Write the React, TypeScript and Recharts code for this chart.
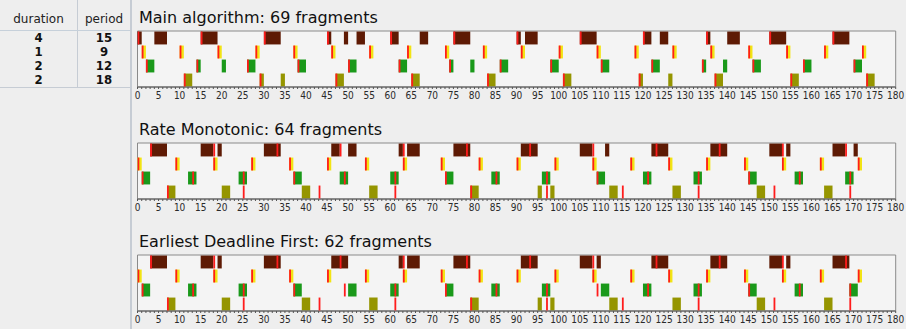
import { ComposedChart, XAxis, YAxis, ReferenceArea, Scatter } from "recharts";

type Seg = [number, number];

// task table (left panel)
const TASK_DURATIONS = [4, 1, 2, 2];
const TASK_PERIODS = [15, 9, 12, 18];

const ROW_COLORS = ["#5e1a04", "#f2e414", "#1a991a", "#959500"];
const MARK_COLOR = "#ff1c1c";

const X_TICKS = Array.from({ length: 181 }, (_, i) => i);

// ---- Main algorithm: executed fragments per task ----
const MAIN_T1: Seg[] = [[0, 1], [4, 7], [15, 19], [30, 34], [45, 46], [49, 50], [52, 54], [60, 62], [67, 69], [75, 79], [90, 91], [92, 95], [105, 109], [120, 122], [124, 126], [135, 136], [140, 143], [150, 154], [165, 169]];
const MAIN_T2: Seg[] = [[1, 2], [10, 11], [19, 20], [28, 29], [37, 38], [46, 47], [55, 56], [64, 65], [73, 74], [82, 83], [91, 92], [100, 101], [109, 110], [118, 119], [127, 128], [136, 137], [145, 146], [154, 155], [163, 164], [172, 173]];
const MAIN_T3: Seg[] = [[2, 4], [14, 15], [20, 21], [26, 28], [38, 40], [50, 52], [62, 64], [74, 75], [79, 80], [86, 88], [98, 100], [110, 112], [122, 124], [134, 135], [139, 140], [146, 148], [158, 160], [170, 172]];
const MAIN_T4: Seg[] = [[11, 13], [29, 30], [34, 35], [47, 49], [65, 67], [83, 85], [101, 103], [119, 120], [126, 127], [137, 139], [155, 157], [173, 175]];

// ---- Rate Monotonic ----
const RM_T1: Seg[] = [[3, 7], [15, 18], [19, 20], [30, 34], [46, 48], [50, 52], [62, 63], [64, 67], [75, 79], [91, 95], [105, 108], [111, 112], [122, 126], [136, 140], [150, 153], [154, 155], [165, 168], [170, 171]];
const RM_T2: Seg[] = [[0, 1], [9, 10], [18, 19], [27, 28], [36, 37], [45, 46], [54, 55], [63, 64], [72, 73], [81, 82], [90, 91], [99, 100], [108, 109], [117, 118], [126, 127], [135, 136], [144, 145], [153, 154], [162, 163], [171, 172]];
const RM_T3: Seg[] = [[1, 3], [12, 14], [24, 26], [37, 39], [48, 50], [60, 62], [73, 75], [84, 86], [96, 98], [109, 111], [120, 122], [132, 134], [145, 147], [156, 158], [168, 170]];
const RM_T4: Seg[] = [[7, 9], [20, 22], [39, 41], [55, 57], [79, 81], [95, 96], [98, 99], [112, 114], [127, 129], [147, 149], [163, 165]];

// ---- Earliest Deadline First ----
const EDF_T1: Seg[] = [[3, 7], [15, 18], [19, 20], [30, 34], [46, 50], [62, 63], [64, 67], [75, 79], [91, 95], [105, 108], [109, 110], [122, 126], [136, 140], [150, 153], [154, 155], [165, 169]];
const EDF_T2: Seg[] = [[0, 1], [9, 10], [18, 19], [27, 28], [36, 37], [45, 46], [54, 55], [63, 64], [72, 73], [81, 82], [90, 91], [99, 100], [108, 109], [117, 118], [126, 127], [135, 136], [144, 145], [153, 154], [162, 163], [171, 172]];
const EDF_T3: Seg[] = [[1, 3], [12, 14], [24, 26], [37, 39], [50, 52], [60, 62], [73, 75], [84, 86], [96, 98], [110, 112], [120, 122], [132, 134], [145, 147], [156, 158], [169, 171]];
const EDF_T4: Seg[] = [[7, 9], [20, 22], [39, 41], [55, 57], [79, 81], [95, 96], [98, 99], [112, 114], [127, 129], [147, 149], [163, 165]];

// red marks (periodic reference points of each task)
const MAIN_MARKS_T1 = [0, 15, 30, 45, 60, 75, 90, 105, 120, 135, 150, 165];
const MAIN_MARKS_T2 = [1, 10, 19, 28, 37, 46, 55, 64, 73, 82, 91, 100, 109, 118, 127, 136, 145, 154, 163, 172];
const MAIN_MARKS_T3 = [2, 14, 26, 38, 50, 62, 74, 86, 98, 110, 122, 134, 146, 158, 170];
const MAIN_MARKS_T4 = [11, 29, 47, 65, 83, 101, 119, 137, 155, 173];

const PRIO_MARKS_T1 = [3, 18, 33, 48, 63, 78, 93, 108, 123, 138, 153, 168];
const PRIO_MARKS_T2 = [0, 9, 18, 27, 36, 45, 54, 63, 72, 81, 90, 99, 108, 117, 126, 135, 144, 153, 162, 171];
const PRIO_MARKS_T3 = [1, 13, 25, 37, 49, 61, 73, 85, 97, 109, 121, 133, 145, 157, 169];
const PRIO_MARKS_T4 = [7, 25, 43, 61, 79, 97, 115, 133, 151, 169];

const TICK_FONT = "'DejaVu Sans Condensed', 'Liberation Sans Narrow', 'DejaVu Sans', sans-serif";
const UI_FONT = "'DejaVu Sans', sans-serif";

type PanelProps = {
  title: string;
  top: number; // y of plot box top
  rows: Seg[][];
  marks: number[][];
};

// thin red stripe starting at the mark's time, full row height
function MarkShape(props: any) {
  const { cx, cy } = props;
  if (cx == null || cy == null) return <g />;
  return <rect x={cx} y={cy - 6.45} width={1.8} height={12.9} fill={MARK_COLOR} />;
}

function SchedulePanel({ title, top, rows, marks }: PanelProps) {
  const markPoints = marks.flatMap((ts, r) => ts.map((t) => ({ x: t, y: r + 0.5 })));
  return (
    <div style={{ position: "absolute", left: 131, top: top - 26, width: 775, height: 110 }}>
      <div
        style={{
          position: "absolute",
          left: 8,
          top: 3,
          height: 20,
          lineHeight: "20px",
          fontFamily: UI_FONT,
          fontSize: 16,
          color: "#111",
          whiteSpace: "nowrap",
        }}
      >
        {title}
      </div>
      <div style={{ position: "absolute", left: 0, top: 20 }}>
        <ComposedChart
          width={775}
          height={84}
          data={markPoints}
          margin={{ top: 6, right: 10.3, bottom: 0, left: 6.5 }}
        >
          <XAxis
            type="number"
            dataKey="x"
            domain={[0, 180]}
            allowDataOverflow
            ticks={X_TICKS}
            interval={0}
            tickSize={2}
            tickMargin={3}
            height={22}
            tickFormatter={(v: number) => (v % 5 === 0 ? String(v) : "")}
            tick={{ fontSize: 10, fill: "#2a2a2a", fontFamily: TICK_FONT }}
            axisLine={{ stroke: "#555" }}
            tickLine={{ stroke: "#555" }}
          />
          <YAxis type="number" dataKey="y" domain={[0, 4]} allowDataOverflow reversed hide />

          <ReferenceArea
            x1={0}
            x2={180}
            y1={0}
            y2={4}
            fill="#f4f4f4"
            fillOpacity={1}
            stroke="#8a8a8a"
          />

          {rows.map((segs, r) =>
            segs.map(([s, e]) => (
              <ReferenceArea
                key={`b-${r}-${s}`}
                x1={s}
                x2={e}
                y1={r + 0.04}
                y2={r + 0.96}
                fill={ROW_COLORS[r]}
                fillOpacity={1}
              />
            ))
          )}

          <Scatter
            data={markPoints}
            dataKey="y"
            shape={MarkShape}
            isAnimationActive={false}
          />
        </ComposedChart>
      </div>
    </div>
  );
}

function TaskTable() {
  const rowCenters = [38, 52, 66, 80];
  const cell = {
    position: "absolute" as const,
    textAlign: "center" as const,
    fontSize: 13,
    lineHeight: "14px",
    fontWeight: 700,
    fontFamily: TICK_FONT,
    color: "#111",
  };
  return (
    <div
      style={{
        position: "absolute",
        left: 0,
        top: 0,
        width: 130,
        height: 329,
        background: "#eeeeee",
        borderRight: "2px solid #c6ccd4",
        fontFamily: UI_FONT,
        color: "#222",
      }}
    >
      <div style={{ position: "absolute", left: 77, top: 0, width: 1, height: 88, background: "#c6ccd4" }} />
      <div style={{ position: "absolute", left: 0, top: 30, width: 130, height: 1, background: "#c6d0da" }} />
      <div style={{ position: "absolute", left: 0, top: 87, width: 130, height: 1, background: "#c6ccd4" }} />
      <div style={{ position: "absolute", left: 0, top: 10, width: 77, textAlign: "center", fontSize: 12, lineHeight: "18px" }}>
        duration
      </div>
      <div style={{ position: "absolute", left: 78, top: 10, width: 52, textAlign: "center", fontSize: 12, lineHeight: "18px" }}>
        period
      </div>
      {TASK_DURATIONS.map((d, i) => (
        <div key={`d${i}`} style={{ ...cell, left: 0, top: rowCenters[i] - 7, width: 77 }}>
          {d}
        </div>
      ))}
      {TASK_PERIODS.map((p, i) => (
        <div key={`p${i}`} style={{ ...cell, left: 78, top: rowCenters[i] - 7, width: 52 }}>
          {p}
        </div>
      ))}
    </div>
  );
}

export default function App() {
  return (
    <div
      style={{
        position: "absolute",
        left: 0,
        top: 0,
        width: 906,
        height: 329,
        background: "#eeeeee",
        overflow: "hidden",
      }}
    >
      <TaskTable />
      <SchedulePanel
        title="Main algorithm: 69 fragments"
        top={31}
        rows={[MAIN_T1, MAIN_T2, MAIN_T3, MAIN_T4]}
        marks={[MAIN_MARKS_T1, MAIN_MARKS_T2, MAIN_MARKS_T3, MAIN_MARKS_T4]}
      />
      <SchedulePanel
        title="Rate Monotonic: 64 fragments"
        top={143}
        rows={[RM_T1, RM_T2, RM_T3, RM_T4]}
        marks={[PRIO_MARKS_T1, PRIO_MARKS_T2, PRIO_MARKS_T3, PRIO_MARKS_T4]}
      />
      <SchedulePanel
        title="Earliest Deadline First: 62 fragments"
        top={255}
        rows={[EDF_T1, EDF_T2, EDF_T3, EDF_T4]}
        marks={[PRIO_MARKS_T1, PRIO_MARKS_T2, PRIO_MARKS_T3, PRIO_MARKS_T4]}
      />
    </div>
  );
}
